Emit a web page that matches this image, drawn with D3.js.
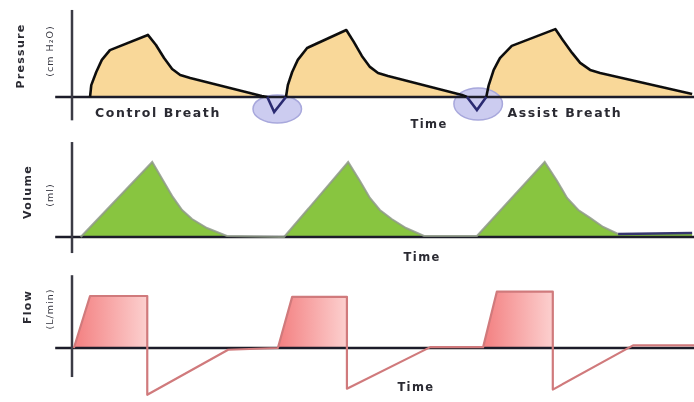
<!DOCTYPE html>
<html><head><meta charset="utf-8">
<script src="https://cdn.jsdelivr.net/npm/d3@7"></script>
<style>html,body{margin:0;padding:0;background:#fff;}svg{display:block;}</style>
</head><body><svg id="c" width="694" height="402"></svg>
<script>
// ---------- DATA ----------
// Time in seconds, pressure in cmH2O, volume in ml, flow in L/min
const pressureTime  = [0.29,0.31,0.39,0.48,0.61,1.22,1.35,1.48,1.61,1.74,1.90,3.05,3.14, 3.44,3.47,3.54,3.63,3.78,4.41,4.53,4.66,4.79,4.92,5.08,6.27,6.35, 6.66,6.70,6.78,6.88,7.07,7.77,7.89,8.04,8.17,8.33,8.49,9.97];
const pressureValue = [0,5.1,10.7,15.9,20.1,26.6,22.3,16.7,12.0,9.4,8.1,0.4,0, 0,5.1,10.7,15.9,21.0,28.7,23.6,17.6,12.9,10.3,9.0,0.9,0, 0,5.1,11.6,16.7,21.9,29.1,24.4,18.9,14.6,11.6,10.3,1.3];
// patient trigger dips (time, pressure)
const dipTime  = [[3.14,3.25,3.44],[6.35,6.51,6.66]];
const dipValue = [[0,-6.4,0],[0,-5.6,0]];
const triggerCenterTime = [3.30, 6.53];
const triggerCenterValue = [-5.1, -3.0];

const volumeTime  = [0.14,1.29,1.46,1.62,1.77,1.93,2.17,2.49,3.34, 3.41,4.44,4.63,4.79,4.95,5.14,5.37,5.66,6.46, 6.51,7.60,7.80,7.96,8.14,8.33,8.54,8.78,9.97];
const volumeValue = [0,500,380,267,180,120,60,7,0, 0,500,373,260,180,120,60,7,7, 7,500,373,260,180,127,67,20,27];

const flowTime  = [0.03,0.29,1.21,1.21,2.51,3.31, 3.31,3.54,4.42,4.42,5.76,6.61, 6.61,6.83,7.73,7.73,9.02,10.0];
const flowValue = [0,60,60,-54,-2,0, 0,59,59,-47,1,1, 1,65,65,-48,3,3];

const breathLabels = ["Control Breath", "Assist Breath"];
const breathLabelTime = [0.37, 7.0];
const panelTitles = ["Pressure", "Volume", "Flow"];
const panelUnits = ["(cm H\u2082O)", "(ml)", "(L/min)"];
const axisLabel = "Time";

// ---------- SCALES ----------
const svg = d3.select("#c");
const x = d3.scaleLinear().domain([0, 10]).range([72, 694]);
const yP = d3.scaleLinear().domain([0, 30]).range([97, 27]);
const yV = d3.scaleLinear().domain([0, 500]).range([237, 162]);
const yF = d3.scaleLinear().domain([0, 60]).range([348, 296]);

const zip = (t, v) => t.map((d, i) => ({t: d, v: v[i]}));
const P = zip(pressureTime, pressureValue);
const V = zip(volumeTime, volumeValue);
const F = zip(flowTime, flowValue);

const defs = svg.append("defs");
const g = defs.append("linearGradient").attr("id", "flowGrad").attr("x1", "0").attr("x2", "1").attr("y1", "0").attr("y2", "0");
g.append("stop").attr("offset", "0%").attr("stop-color", "#f37f80");
g.append("stop").attr("offset", "100%").attr("stop-color", "#fcd0cf");
const blur = defs.append("filter").attr("id", "soft");
blur.append("feGaussianBlur").attr("stdDeviation", 0.6);

const root = svg.append("g").attr("filter", "url(#soft)");

// ---------- PRESSURE ----------
root.append("path").datum(P)
  .attr("fill", "#f9d899")
  .attr("d", d3.area().x(d => x(d.t)).y0(yP(0)).y1(d => yP(Math.max(0, d.v))));

triggerCenterTime.forEach((t, i) => {
  root.append("ellipse")
    .attr("cx", x(t)).attr("cy", yP(triggerCenterValue[i]))
    .attr("rx", x(t + 0.39) - x(t)).attr("ry", i === 0 ? 14 : 16)
    .attr("fill", "#c6c6ee").attr("fill-opacity", 0.9)
    .attr("stroke", "#a8a8dc").attr("stroke-width", 1.5);
});

root.append("line").attr("x1", x(-0.27)).attr("x2", x(10)).attr("y1", yP(0)).attr("y2", yP(0))
  .attr("stroke", "#1e1e2a").attr("stroke-width", 2.5);
root.append("line").attr("x1", x(0)).attr("x2", x(0)).attr("y1", yP(37.3)).attr("y2", yP(-10))
  .attr("stroke", "#3a3a44").attr("stroke-width", 2.5);

const segs = [[0, 13], [13, 26], [26, 38]];
segs.forEach(([a, b]) => {
  root.append("path").datum(P.slice(a, b))
    .attr("fill", "none").attr("stroke", "#111").attr("stroke-width", 2.6).attr("stroke-linejoin", "round")
    .attr("d", d3.line().x(d => x(d.t)).y(d => yP(d.v)));
});
dipTime.forEach((tt, i) => {
  root.append("path").datum(zip(tt, dipValue[i]))
    .attr("fill", "none").attr("stroke", "#2c2c72").attr("stroke-width", 2.6)
    .attr("d", d3.line().x(d => x(d.t)).y(d => yP(d.v)));
});

// ---------- VOLUME ----------
root.append("path").datum(V)
  .attr("fill", "#88c540")
  .attr("d", d3.area().x(d => x(d.t)).y0(yV(0)).y1(d => yV(d.v)));
root.append("line").attr("x1", x(-0.27)).attr("x2", x(10)).attr("y1", yV(0)).attr("y2", yV(0))
  .attr("stroke", "#1e1e2a").attr("stroke-width", 2.5);
root.append("line").attr("x1", x(0)).attr("x2", x(0)).attr("y1", yV(633)).attr("y2", yV(-107))
  .attr("stroke", "#3a3a44").attr("stroke-width", 2.5);
root.append("path").datum(V.slice(0, 26))
  .attr("fill", "none").attr("stroke", "#8f9a88").attr("stroke-width", 2).attr("stroke-opacity", 0.85)
  .attr("d", d3.line().x(d => x(d.t)).y(d => yV(d.v)));
root.append("path").datum(V.slice(25))
  .attr("fill", "none").attr("stroke", "#34346e").attr("stroke-width", 2.5)
  .attr("d", d3.line().x(d => x(d.t)).y(d => yV(d.v)));

// ---------- FLOW ----------
for (let i = 0; i < 3; i++) {
  const pos = F.slice(i * 6, i * 6 + 4);
  root.append("path").datum(pos)
    .attr("fill", "url(#flowGrad)")
    .attr("d", d3.area().x(d => x(d.t)).y0(yF(0)).y1(d => yF(Math.max(0, d.v))));
}
root.append("line").attr("x1", x(-0.27)).attr("x2", x(10)).attr("y1", yF(0)).attr("y2", yF(0))
  .attr("stroke", "#1e1e2a").attr("stroke-width", 2.5);
root.append("line").attr("x1", x(0)).attr("x2", x(0)).attr("y1", yF(84)).attr("y2", yF(-33.5))
  .attr("stroke", "#3a3a44").attr("stroke-width", 2.5);
root.append("path").datum(F)
  .attr("fill", "none").attr("stroke", "#d07a7c").attr("stroke-width", 2.2).attr("stroke-linejoin", "round")
  .attr("d", d3.line().x(d => x(d.t)).y(d => yF(d.v)));

// ---------- TEXT ----------
const font = "'DejaVu Sans', Verdana, sans-serif";
breathLabels.forEach((s, i) => {
  root.append("text").attr("x", x(breathLabelTime[i])).attr("y", 117)
    .attr("font-family", font).attr("font-weight", "bold").attr("font-size", 12.5)
    .attr("letter-spacing", 1.6).attr("fill", "#2a2a32").text(s);
});
[[yP, -11.6, 5.74], [yV, -136, 5.63], [yF, -44.5, 5.53]].forEach(([sc, v, tt]) => {
  root.append("text").attr("x", x(tt)).attr("y", sc(v) + 4)
    .attr("font-family", font).attr("font-weight", "bold").attr("font-size", 11.5)
    .attr("letter-spacing", 1.4).attr("fill", "#2a2a32").attr("text-anchor", "middle").text(axisLabel);
});
const titleY = [56, 192, 307];
const unitY = [51, 195, 309];
const titleX = [24, 31, 31];
panelTitles.forEach((s, i) => {
  root.append("text").attr("transform", `translate(${titleX[i]},${titleY[i]}) rotate(-90)`)
    .attr("font-family", font).attr("font-weight", "bold").attr("font-size", 11)
    .attr("letter-spacing", 1.3).attr("text-anchor", "middle").attr("fill", "#2a2a32").text(s);
  root.append("text").attr("transform", `translate(53,${unitY[i]}) rotate(-90)`)
    .attr("font-family", font).attr("font-size", 9.5)
    .attr("letter-spacing", 1.0).attr("text-anchor", "middle").attr("fill", "#33333c").text(panelUnits[i]);
});
</script></body></html>
